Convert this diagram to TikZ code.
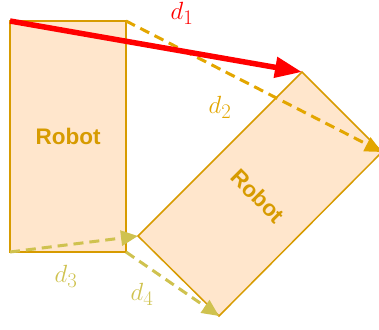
\documentclass[tikz,border=0pt]{standalone}
\usepackage{fontspec}
\setsansfont{Liberation Sans}
\usetikzlibrary{arrows.meta}

\definecolor{robotfill}{HTML}{FFE6CC}
\definecolor{robotline}{HTML}{D79B00}
\definecolor{dtwo}{HTML}{E3A600}
\definecolor{dthree}{HTML}{CFC24F}

\begin{document}
\begin{tikzpicture}[x=1pt,y=-1pt,
  robot/.style={fill=robotfill, draw=robotline, line width=1.5pt},
  robotlabel/.style={font=\sffamily\bfseries\fontsize{22.5}{26}\selectfont, text=robotline},
  move/.style={dash pattern=on 10pt off 6pt, line width=3pt, -{Triangle[length=17pt,width=15pt]}},
  dlabel/.style={font=\fontsize{28}{32}\selectfont}]

\useasboundingbox (0,0) rectangle (379,329);
\clip (0,0) rectangle (379,329);

% Corners of the robot before the move
\coordinate (a1) at (10,21);
\coordinate (a2) at (126,21);
\coordinate (a3) at (126,252);
\coordinate (a4) at (10,252);

% Corners of the robot after the move
\coordinate (b1) at (302,72);
\coordinate (b2) at (382,152);
\coordinate (b3) at (219,316);
\coordinate (b4) at (138,236);

% Robots
\draw[robot] (a1) -- (a2) -- (a3) -- (a4) -- cycle;
\draw[robot] (b1) -- (b2) -- (b3) -- (b4) -- cycle;
\node[robotlabel] (robotA) at (68,136) {Robot};
\node[robotlabel, rotate=-45] (robotB) at (258,196) {Robot};

% Corner displacements
\draw[move, dtwo] (a2) -- (b2);
\draw[move, dthree] (a4) -- (b4);
\draw[move, dthree] (a3) -- (b3);
\draw[red, line width=5.5pt, -{Triangle[length=27pt,width=20pt]}] (a1) -- (b1);

% Labels
\node[dlabel, red] (lblone) at (182,13) {$d_1$};
\node[dlabel, dtwo] (lbltwo) at (220,107) {$d_2$};
\node[dlabel, dthree] (lblthree) at (66,276) {$d_3$};
\node[dlabel, dthree] (lblfour) at (142,294) {$d_4$};

\end{tikzpicture}
\end{document}
